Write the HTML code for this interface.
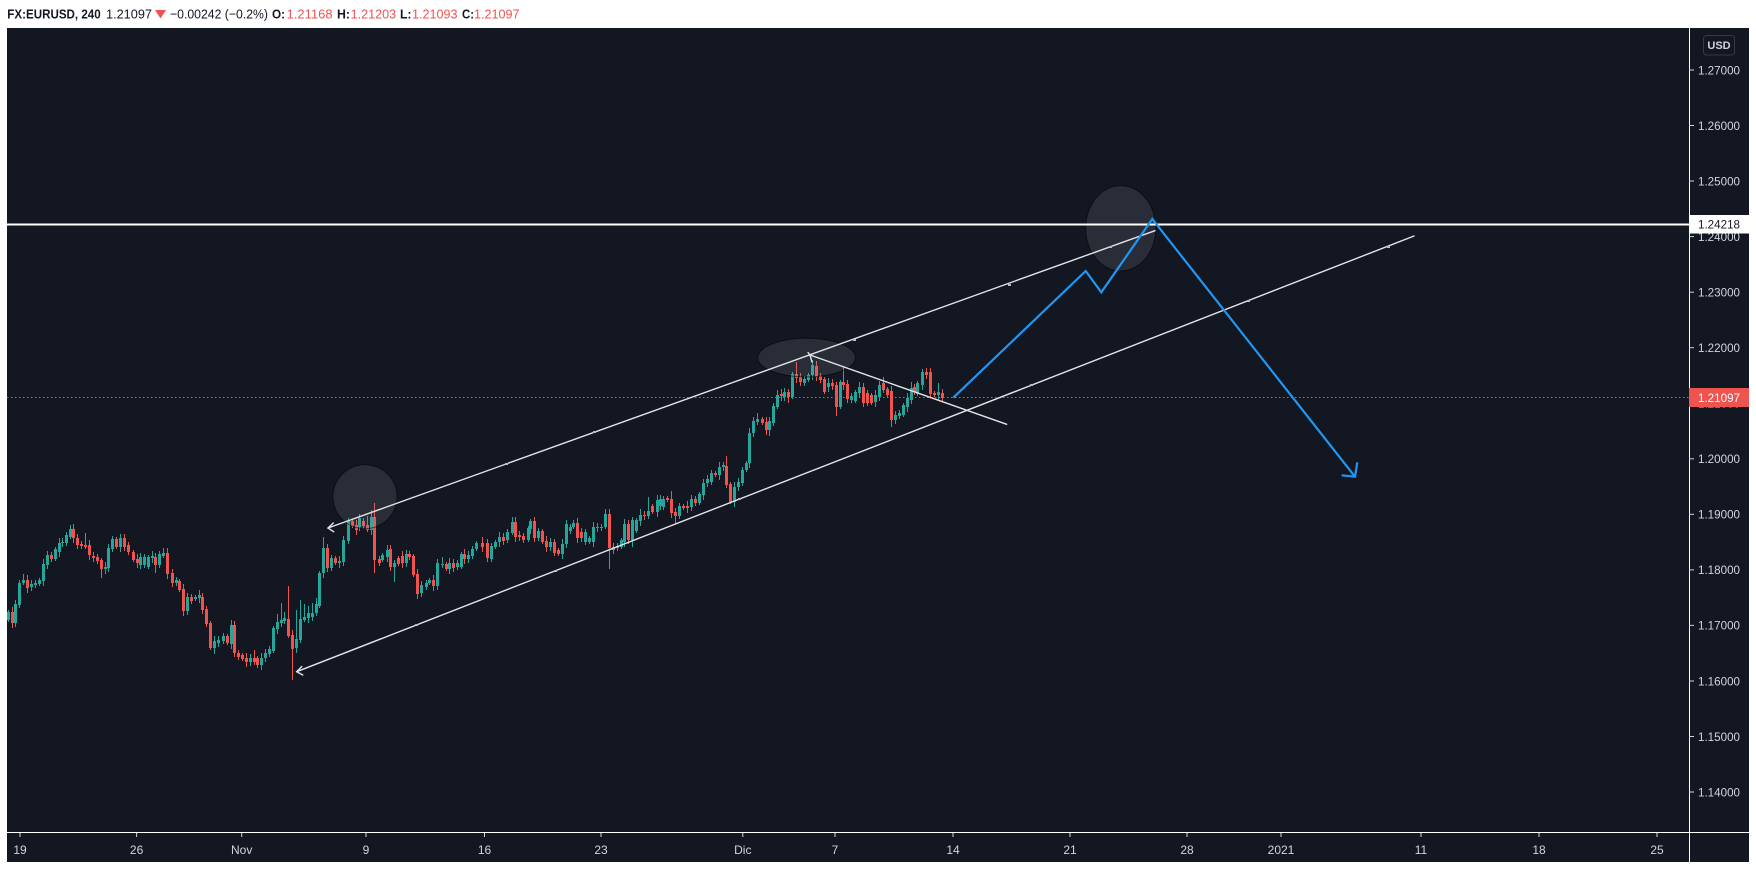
<!DOCTYPE html>
<html>
<head>
<meta charset="utf-8">
<style>
html,body{margin:0;padding:0;background:#ffffff;width:1756px;height:869px;overflow:hidden}
svg{display:block}
text{font-family:"Liberation Sans",sans-serif}
</style>
</head>
<body>
<svg id="s" width="1756" height="869" viewBox="0 0 1756 869" xmlns="http://www.w3.org/2000/svg">
  <defs>
    <clipPath id="cp"><rect x="7" y="28" width="1682" height="805"/></clipPath>
  </defs>
  <rect x="0" y="0" width="1756" height="869" fill="#ffffff"/>
  <rect x="7" y="28" width="1742" height="834" fill="#131722"/>

  <!-- header -->
  <text x="7.3" y="18.3" font-size="13" font-weight="bold" fill="#131722" textLength="93.4" lengthAdjust="spacingAndGlyphs">FX:EURUSD, 240</text>
  <text x="106" y="18.3" font-size="13" fill="#131722" textLength="46" lengthAdjust="spacingAndGlyphs">1.21097</text>
  <polygon points="155,10 166,10 160.5,18.5" fill="#ef5350"/>
  <text x="170" y="18.3" font-size="13" fill="#131722" textLength="98" lengthAdjust="spacingAndGlyphs">−0.00242 (−0.2%)</text>
  <text x="272" y="18.3" font-size="13" font-weight="bold" fill="#131722" textLength="13" lengthAdjust="spacingAndGlyphs">O:</text>
  <text x="286.6" y="18.3" font-size="13" fill="#ef5350" textLength="46" lengthAdjust="spacingAndGlyphs">1.21168</text>
  <text x="337" y="18.3" font-size="13" font-weight="bold" fill="#131722" textLength="13" lengthAdjust="spacingAndGlyphs">H:</text>
  <text x="350.6" y="18.3" font-size="13" fill="#ef5350" textLength="45.5" lengthAdjust="spacingAndGlyphs">1.21203</text>
  <text x="400" y="18.3" font-size="13" font-weight="bold" fill="#131722" textLength="11.5" lengthAdjust="spacingAndGlyphs">L:</text>
  <text x="412" y="18.3" font-size="13" fill="#ef5350" textLength="45.5" lengthAdjust="spacingAndGlyphs">1.21093</text>
  <text x="462" y="18.3" font-size="13" font-weight="bold" fill="#131722" textLength="12" lengthAdjust="spacingAndGlyphs">C:</text>
  <text x="474" y="18.3" font-size="13" fill="#ef5350" textLength="45.5" lengthAdjust="spacingAndGlyphs">1.21097</text>

  <!-- chart content -->
  <g clip-path="url(#cp)">
    <g id="candles"></g>

    <!-- shapes -->
    <ellipse cx="806.6" cy="357.6" rx="48.8" ry="19.3" fill="rgba(150,152,160,0.17)" stroke="rgba(0,0,0,0.55)" stroke-width="1"/>
    <circle cx="365" cy="496.7" r="32" fill="rgba(150,152,160,0.17)" stroke="rgba(0,0,0,0.55)" stroke-width="1"/>
    <ellipse cx="1120.7" cy="228.3" rx="35" ry="42.7" fill="rgba(150,152,160,0.17)" stroke="rgba(0,0,0,0.55)" stroke-width="1"/>

    <!-- red dotted last price -->
    <line x1="7" y1="397.5" x2="1689" y2="397.5" stroke="#ef5350" stroke-width="1" stroke-dasharray="1.5 2.5"/>

    <!-- horizontal resistance -->
    <line x1="7" y1="224.5" x2="1689" y2="224.5" stroke="#ffffff" stroke-width="2"/>

    <!-- channel lines -->
    <g stroke="#e3e5ea" stroke-width="1.4" fill="none" stroke-linecap="round">
      <line x1="328" y1="528" x2="1155" y2="230.7"/>
      <polyline points="333.3,523 328,528 333.8,531.8"/>
      <line x1="296.7" y1="671.7" x2="1414" y2="236"/>
      <polyline points="301.8,666.5 296.7,671.7 302.8,675"/>
      <line x1="810" y1="355" x2="1006.7" y2="424.3"/>
      <polyline points="808,352.5 810,355 812,362"/>
    </g>
    <!-- small anchor marks -->
    <g fill="#b8bcc6">
      <rect x="505" y="463" width="3" height="2"/>
      <rect x="593" y="431" width="3" height="2"/>
      <rect x="853" y="339" width="3" height="2"/>
      <rect x="1008" y="284" width="3" height="2"/>
      <rect x="1109" y="246" width="3" height="2"/>
      <rect x="415" y="624" width="3" height="2"/>
      <rect x="554" y="570" width="3" height="2"/>
      <rect x="738" y="498" width="3" height="2"/>
      <rect x="1030" y="384" width="3" height="2"/>
      <rect x="1247" y="300" width="3" height="2"/>
      <rect x="1387" y="246" width="3" height="2"/>
    </g>

    <!-- blue projection -->
    <polyline points="953.3,397.7 1085.7,271 1101.3,292.3 1152.3,219 1355,476.7" fill="none" stroke="#2196f3" stroke-width="2.2" stroke-linejoin="miter"/>
    <polyline points="1341.7,475.3 1355,476.7 1357.3,462.3" fill="none" stroke="#2196f3" stroke-width="2.2"/>
  </g>

  <!-- axes lines -->
  <line x1="1689.5" y1="28" x2="1689.5" y2="862" stroke="#ffffff" stroke-width="1"/>
  <line x1="7" y1="832.5" x2="1749" y2="832.5" stroke="#ffffff" stroke-width="1"/>

  <!-- price axis -->
  <g stroke="#d1d4dc" stroke-width="1">
    <line x1="1689" y1="70" x2="1694" y2="70"/>
    <line x1="1689" y1="125.5" x2="1694" y2="125.5"/>
    <line x1="1689" y1="181" x2="1694" y2="181"/>
    <line x1="1689" y1="236.6" x2="1694" y2="236.6"/>
    <line x1="1689" y1="292.2" x2="1694" y2="292.2"/>
    <line x1="1689" y1="347.7" x2="1694" y2="347.7"/>
    <line x1="1689" y1="403.2" x2="1694" y2="403.2"/>
    <line x1="1689" y1="458.8" x2="1694" y2="458.8"/>
    <line x1="1689" y1="514.3" x2="1694" y2="514.3"/>
    <line x1="1689" y1="569.9" x2="1694" y2="569.9"/>
    <line x1="1689" y1="625.4" x2="1694" y2="625.4"/>
    <line x1="1689" y1="681" x2="1694" y2="681"/>
    <line x1="1689" y1="736.5" x2="1694" y2="736.5"/>
    <line x1="1689" y1="792" x2="1694" y2="792"/>
  </g>
  <g font-size="12" fill="#d1d4dc">
    <text x="1698" y="74.3" textLength="42" lengthAdjust="spacingAndGlyphs">1.27000</text>
    <text x="1698" y="129.8" textLength="42" lengthAdjust="spacingAndGlyphs">1.26000</text>
    <text x="1698" y="185.3" textLength="42" lengthAdjust="spacingAndGlyphs">1.25000</text>
    <text x="1698" y="240.9" textLength="42" lengthAdjust="spacingAndGlyphs">1.24000</text>
    <text x="1698" y="296.5" textLength="42" lengthAdjust="spacingAndGlyphs">1.23000</text>
    <text x="1698" y="352" textLength="42" lengthAdjust="spacingAndGlyphs">1.22000</text>
    <text x="1698" y="407.5" textLength="42" lengthAdjust="spacingAndGlyphs">1.21000</text>
    <text x="1698" y="463.1" textLength="42" lengthAdjust="spacingAndGlyphs">1.20000</text>
    <text x="1698" y="518.6" textLength="42" lengthAdjust="spacingAndGlyphs">1.19000</text>
    <text x="1698" y="574.2" textLength="42" lengthAdjust="spacingAndGlyphs">1.18000</text>
    <text x="1698" y="629.7" textLength="42" lengthAdjust="spacingAndGlyphs">1.17000</text>
    <text x="1698" y="685.3" textLength="42" lengthAdjust="spacingAndGlyphs">1.16000</text>
    <text x="1698" y="740.8" textLength="42" lengthAdjust="spacingAndGlyphs">1.15000</text>
    <text x="1698" y="796.3" textLength="42" lengthAdjust="spacingAndGlyphs">1.14000</text>
  </g>
  <!-- last price label -->
  <rect x="1689" y="388" width="60" height="19" fill="#ef5350"/>
  <text x="1698" y="401.8" font-size="12" fill="#ffffff" textLength="42" lengthAdjust="spacingAndGlyphs">1.21097</text>
  <!-- horizontal line label -->
  <rect x="1690" y="215" width="59" height="18.5" fill="#ffffff"/>
  <text x="1698" y="228.6" font-size="12" fill="#131722" textLength="42" lengthAdjust="spacingAndGlyphs">1.24218</text>
  <!-- USD box -->
  <rect x="1703.5" y="35.5" width="31" height="19.5" rx="3" ry="3" fill="none" stroke="#363a45" stroke-width="1"/>
  <text x="1719" y="49.2" font-size="11" font-weight="bold" fill="#d1d4dc" text-anchor="middle">USD</text>

  <!-- time axis -->
  <g stroke="#d1d4dc" stroke-width="1">
    <line x1="20" y1="833" x2="20" y2="837"/>
    <line x1="136.6" y1="833" x2="136.6" y2="837"/>
    <line x1="241.7" y1="833" x2="241.7" y2="837"/>
    <line x1="366" y1="833" x2="366" y2="837"/>
    <line x1="484.5" y1="833" x2="484.5" y2="837"/>
    <line x1="601" y1="833" x2="601" y2="837"/>
    <line x1="742.8" y1="833" x2="742.8" y2="837"/>
    <line x1="835" y1="833" x2="835" y2="837"/>
    <line x1="953" y1="833" x2="953" y2="837"/>
    <line x1="1070" y1="833" x2="1070" y2="837"/>
    <line x1="1187" y1="833" x2="1187" y2="837"/>
    <line x1="1281" y1="833" x2="1281" y2="837"/>
    <line x1="1421" y1="833" x2="1421" y2="837"/>
    <line x1="1539" y1="833" x2="1539" y2="837"/>
    <line x1="1657" y1="833" x2="1657" y2="837"/>
  </g>
  <g font-size="12" fill="#d1d4dc" text-anchor="middle">
    <text x="20" y="854">19</text>
    <text x="136.6" y="854">26</text>
    <text x="241.7" y="854">Nov</text>
    <text x="366" y="854">9</text>
    <text x="484.5" y="854">16</text>
    <text x="601" y="854">23</text>
    <text x="742.8" y="854">Dic</text>
    <text x="835" y="854">7</text>
    <text x="953" y="854">14</text>
    <text x="1070" y="854">21</text>
    <text x="1187" y="854">28</text>
    <text x="1281" y="854">2021</text>
    <text x="1421" y="854">11</text>
    <text x="1539" y="854">18</text>
    <text x="1657" y="854">25</text>
  </g>
</svg>
<script>
(function(){
var C=[
[8,612,620,1],[11.5,612,623,0],[15,604,623,1],[19.3,583,605,1],[22.7,580,583,1,574],[26.7,580,588,0],[30.7,584,587,1],[34.7,583,585,1],[38.7,580,584,1],[42.7,564,581,1],[46.7,555,565,1],[50.7,555,559,0],[54.7,549,559,1],[58.7,543,552,1],[62.3,542,543,1],[66.3,535,543,1],[69.7,529,537,1,525],[73.3,529,538,0],[77.3,538,545,0],[81.3,544,546,0],[85.3,545,547,0,533],[89.3,545,555,0],[93.3,556,558,0],[97.3,557,561,0],[101.3,560,569,0,0,578],[105.3,567,569,1],[108.3,548,568,1],[112,539,549,1],[116,539,547,0],[120,538,547,1,534],[124,538,547,0],[128.3,545,552,0],[132.7,552,560,0],[136.7,559,563,0],[140.3,557,565,1],[144.3,557,565,1],[148.3,557,567,1],[151.7,556,558,1],[155.3,557,565,0,0,573],[159.3,554,565,1],[163.3,553,556,1,548],[167.3,553,574,0],[171.7,573,583,0],[175.7,580,583,1],[179.3,581,590,0],[183.3,589,611,0,0,616],[187.3,597,611,1],[191.3,597,601,0],[195.3,597,599,1],[198.7,595,598,1],[202.3,597,610,0],[206.3,609,624,0],[210.3,623,648,0],[214.3,641,648,1,0,654],[218.3,640,643,1],[222.7,636,641,1],[226.7,636,643,0],[230.7,625,644,1],[234.3,625,653,0],[238.3,653,657,0],[242,655,659,0],[246,658,662,0],[250,658,662,1],[253.7,658,662,0,650],[257.3,658,665,0,0,668],[261.3,658,665,1],[265.3,653,658,1],[269.3,649,654,1],[273.3,628,651,1],[277.3,622,629,1,614],[281,620,623,1,603],[284.3,618,621,1,612],[288.3,619,636,0,586],[292.3,635,649,0,0,680],[296.3,639,648,1,610,653],[300.3,619,640,1,600],[304.3,617,620,1,604],[308.3,613,618,1,606],[312.3,613,617,1,603],[315.7,604,613,1,598],[319.3,573,606,1],[323.3,548,573,1,537],[327.3,548,568,0],[331.3,558,568,1],[335.3,558,563,0],[339.3,561,563,1],[343.3,540,562,1],[347.7,521,541,1],[351.7,521,526,0],[355.7,525,530,0],[359.3,518,527,1],[362.7,521,526,0],[366.7,525,530,0,516],[370.7,517,530,1,510],[374,517,560,0,503,573],[378.7,559,563,0],[382.3,555,560,1],[386.7,550,557,1],[390,549,567,0],[394.3,563,567,1,0,582],[398.3,558,564,0],[401.7,556,563,0],[405.7,554,563,1],[409.3,554,557,0],[413.3,556,575,0],[417.3,574,594,0],[421.3,585,593,1],[425.7,583,587,1],[429.3,580,583,1],[433.3,580,586,0],[437.3,563,586,1],[441.7,564,565,1,557],[445.7,564,569,0],[449.3,563,569,1],[453.3,563,568,0],[456.7,563,567,1],[460.7,554,567,1],[464.3,554,559,0],[468.3,555,559,1],[472.3,549,556,1],[476,543,549,1],[481.7,543,547,0,537],[486.7,543,558,0],[490.7,546,559,1],[495.3,542,547,1],[499.3,537,542,1],[503.3,537,541,0],[507.3,532,540,1],[511.7,522,533,1,517],[515.3,522,537,0],[519.3,535,537,0],[523.3,536,540,0],[527.7,528,540,1],[530,521,529,1,519],[534,521,538,0],[538.3,531,538,1],[542.3,531,542,0],[546,541,547,0],[550,542,547,1],[554,542,553,0],[558.3,550,554,0],[562.3,544,554,1],[566.3,524,544,1],[570.3,527,531,1],[573.3,523,527,1,520],[577.3,523,538,0],[581.3,532,538,0],[585.3,532,542,1],[589.3,538,542,1],[593.3,527,542,1],[597.3,527,528,1],[601.3,527,528,1],[605,514,527,1,509],[609.3,514,548,0,0,569],[613.3,547,550,0],[616.7,546,548,1],[620.7,540,547,1],[624,524,542,1,519],[628,524,540,0],[632,520,540,1,0,547],[636,520,531,1],[640,515,521,1,509],[644.3,515,516,0],[648.3,511,516,1,497],[652.3,506,512,0],[656.7,500,512,1],[660,499,506,1],[663.3,499,507,1],[667.3,498,500,0],[671.3,499,513,0,491],[675.3,512,516,0,0,524],[679.3,506,516,1],[683.3,506,508,0],[687.3,506,508,0],[691.3,499,507,1],[695.3,499,503,0],[699.3,494,503,1],[702.7,483,495,1,479],[706.7,479,483,1],[710.7,473,482,1,470],[714.7,473,475,0],[718.7,467,475,1],[722.7,465,467,1,462],[726,466,485,0,456],[730,484,502,0],[734,487,502,1],[738,482,487,1],[742.3,470,483,1],[745.7,463,470,1],[749.3,433,463,1],[753.3,421,433,1],[757.3,419,422,1,413],[761.7,419,423,0],[765.7,422,430,0],[769.3,421,430,1,0,436],[773.3,406,423,1],[777.3,395,407,1,390],[781.3,394,396,0],[784.3,392,397,1],[788.3,392,397,0,0,403],[792.3,374,397,1],[796.3,374,378,0,362],[800,377,382,0],[804.3,379,383,1],[808.3,375,380,1],[812.3,365,375,1],[816.3,366,377,0,361],[820.3,376,380,0],[824.3,379,392,0],[827.7,383,387,1],[831.7,383,386,0],[835.7,385,407,0,0,416],[839.7,382,407,1],[843.3,382,385,0,366],[847.3,384,399,0],[851.3,396,400,1],[855.3,392,401,1],[859.3,387,393,1],[863.3,387,403,0],[866.7,393,403,0],[870.7,395,403,0],[874.7,395,402,1],[878.7,385,397,1],[882.7,383,390,0,377],[886.7,389,395,0],[890.7,391,420,0,0,427],[894.7,415,420,1],[898.7,413,416,1],[902.7,405,415,1],[906.7,398,407,1],[910.7,388,400,1,382],[914,387,392,0],[917.3,383,394,1],[921.7,372,385,1,369],[925.7,372,375,0],[929.7,372,394,0,368],[933.7,393,395,0],[937.7,392,395,1,383],[941.7,393,398,0]
];
var ns="http://www.w3.org/2000/svg";
var g=document.getElementById("candles");
var out="";
for(var i=0;i<C.length;i++){
  var c=C[i];
  var cx=Math.round(c[0]);
  var y1=c[1],y2=c[2];
  if(y2-y1<1){y2=y1+1;}
  var col=c[3]?"#26a69a":"#ef5350";
  var wt=(c[4]&&c[4]>0)?c[4]:y1-(2+(i*7%4));
  var wb=(c[5]&&c[5]>0)?c[5]:y2+(2+(i*11%4));
  out+='<rect x="'+cx+'" y="'+wt+'" width="1" height="'+(wb-wt)+'" fill="'+col+'"/>';
  out+='<rect x="'+(cx-1)+'" y="'+y1+'" width="3" height="'+(y2-y1)+'" fill="'+col+'"/>';
}
var tmp=document.createElementNS(ns,"g");
g.innerHTML=out;
})();
</script>
</body>
</html>
